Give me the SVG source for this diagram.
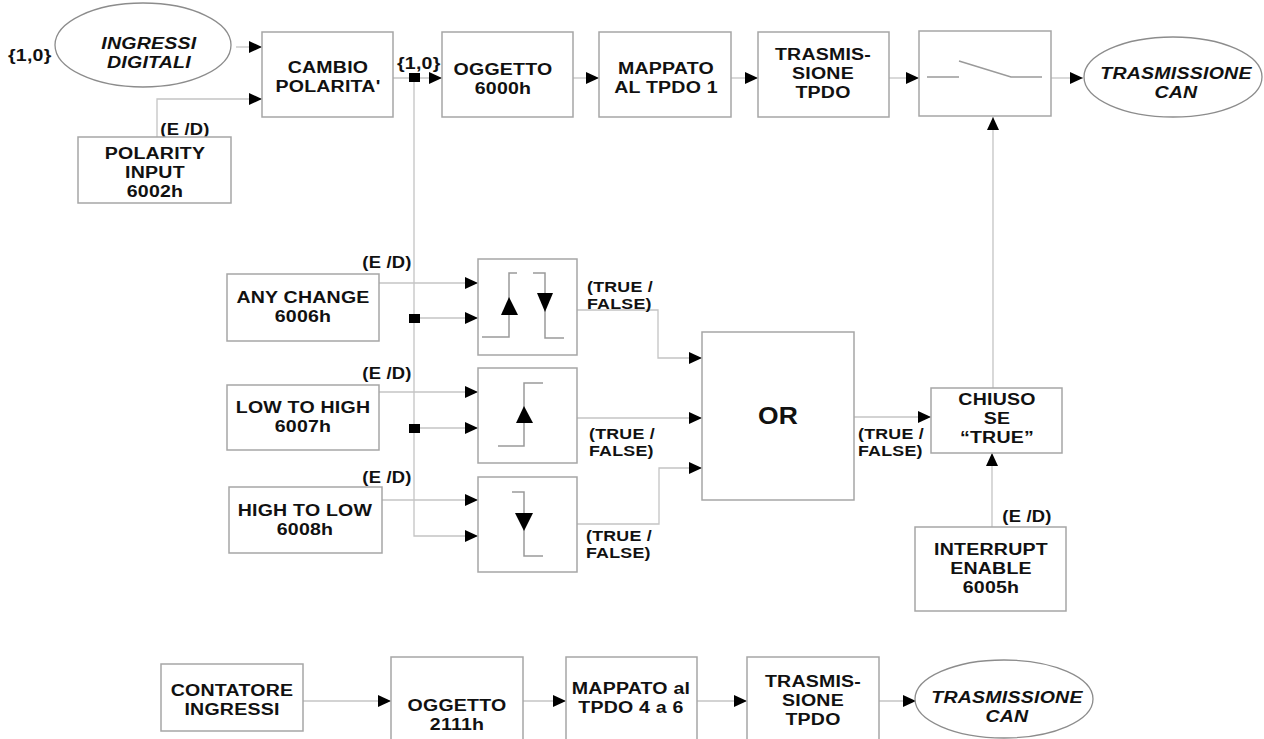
<svg xmlns="http://www.w3.org/2000/svg" width="1264" height="739" viewBox="0 0 1264 739">
<defs>
<marker id="ah" markerUnits="userSpaceOnUse" markerWidth="14" markerHeight="12" refX="13" refY="6" orient="auto">
<path d="M0,0 L13,6 L0,12 Z" fill="#000"/>
</marker>
<style>
.bx{fill:#fff;stroke:#a6a6a6;stroke-width:1.5}
.el{fill:#fff;stroke:#8c8c8c;stroke-width:1.3}
.cn{fill:none;stroke:#c4c4c4;stroke-width:1.3}
.ar{marker-end:url(#ah)}
.sym{fill:none;stroke:#9a9a9a;stroke-width:1.5}
.tri{fill:#000}
text{font-family:"Liberation Sans",Arial,sans-serif;font-weight:bold;fill:#111;letter-spacing:0.2px;transform-box:fill-box;transform-origin:center;transform:scaleX(1.15)}
.t{font-size:17px;text-anchor:middle}
.it{font-size:17px;text-anchor:middle;font-style:italic}
.s{font-size:16px;text-anchor:middle}
.ls{font-size:15.5px;text-anchor:start;transform-origin:left center}
.br{font-size:17px;text-anchor:start;transform-origin:left center}
</style>
</defs>
<rect width="1264" height="739" fill="#fff"/>

<g id="connectors">
<line class="cn ar" x1="236" y1="47" x2="262" y2="47"/>
<polyline class="cn ar" points="157,137 157,99 262,99"/>
<line class="cn ar" x1="393" y1="78" x2="442" y2="78"/>
<line class="cn ar" x1="573" y1="78" x2="599" y2="78"/>
<line class="cn ar" x1="731" y1="78" x2="758" y2="78"/>
<line class="cn ar" x1="889" y1="78" x2="919" y2="78"/>
<line class="cn ar" x1="1051" y1="78" x2="1083" y2="78"/>
<polyline class="cn ar" points="414,78 414,536 478,536"/>
<line class="cn ar" x1="379" y1="283" x2="478" y2="283"/>
<line class="cn ar" x1="414" y1="318" x2="478" y2="318"/>
<line class="cn ar" x1="379" y1="392" x2="478" y2="392"/>
<line class="cn ar" x1="414" y1="428" x2="478" y2="428"/>
<line class="cn ar" x1="382" y1="500" x2="478" y2="500"/>
<polyline class="cn ar" points="577,310 658,310 658,358 702,358"/>
<line class="cn ar" x1="577" y1="418" x2="702" y2="418"/>
<polyline class="cn ar" points="577,524 659,524 659,468 702,468"/>
<line class="cn ar" x1="854" y1="417" x2="931" y2="417"/>
<line class="cn ar" x1="993" y1="388" x2="993" y2="117"/>
<line class="cn ar" x1="992" y1="527" x2="992" y2="453"/>
<line class="cn ar" x1="303" y1="701" x2="391" y2="701"/>
<line class="cn ar" x1="523" y1="701" x2="566" y2="701"/>
<line class="cn ar" x1="697" y1="701" x2="747" y2="701"/>
<line class="cn ar" x1="879" y1="701" x2="916" y2="701"/>
<rect x="409" y="73" width="11" height="9" fill="#000"/>
<rect x="409" y="314" width="11" height="9" fill="#000"/>
<rect x="409" y="424" width="11" height="9" fill="#000"/>
<text class="br" x="8" y="61">{1,0}</text>
<text class="br" x="397" y="69">{1,0}</text>
<text class="s" x="185" y="135">(E /D)</text>
<text class="s" x="387" y="268">(E /D)</text>
<text class="s" x="387" y="379">(E /D)</text>
<text class="s" x="387" y="483">(E /D)</text>
<text class="s" x="1027" y="522">(E /D)</text>
<text class="ls" x="587" y="292">(TRUE /</text>
<text class="ls" x="587" y="309">FALSE)</text>
<text class="ls" x="589" y="439">(TRUE /</text>
<text class="ls" x="589" y="456">FALSE)</text>
<text class="ls" x="586" y="541">(TRUE /</text>
<text class="ls" x="586" y="558">FALSE)</text>
<text class="ls" x="858" y="439">(TRUE /</text>
<text class="ls" x="858" y="456">FALSE)</text>
</g>

<g id="ingressi">
<ellipse class="el" cx="143" cy="45" rx="88" ry="42"/>
<text class="it" x="149" y="49">INGRESSI</text>
<text class="it" x="149" y="68">DIGITALI</text>
</g>
<g id="cambio">
<rect class="bx" x="262" y="32" width="131" height="85"/>
<text class="t" x="328" y="73">CAMBIO</text>
<text class="t" x="328" y="92">POLARITA'</text>
</g>
<g id="polarity">
<rect class="bx" x="78" y="137" width="153" height="66"/>
<text class="t" x="155" y="159">POLARITY</text>
<text class="t" x="155" y="178">INPUT</text>
<text class="t" x="155" y="197">6002h</text>
</g>
<g id="oggetto6000">
<rect class="bx" x="442" y="32" width="131" height="85"/>
<text class="t" x="503" y="75">OGGETTO</text>
<text class="t" x="503" y="94">6000h</text>
</g>
<g id="mappato1">
<rect class="bx" x="599" y="32" width="132" height="85"/>
<text class="t" x="666" y="74">MAPPATO</text>
<text class="t" x="666" y="93">AL TPDO 1</text>
</g>
<g id="trasm1">
<rect class="bx" x="758" y="32" width="131" height="85"/>
<text class="t" x="823" y="60">TRASMIS-</text>
<text class="t" x="823" y="79">SIONE</text>
<text class="t" x="823" y="98">TPDO</text>
</g>
<g id="switch">
<rect class="bx" x="919" y="31" width="132" height="85"/>
<polyline class="sym" points="927,77 959,77"/>
<polyline class="sym" points="959,61 1011,77 1042,77"/>
</g>
<g id="can1">
<ellipse class="el" cx="1173" cy="77" rx="89" ry="40"/>
<text class="it" x="1176" y="79">TRASMISSIONE</text>
<text class="it" x="1176" y="98">CAN</text>
</g>

<g id="anychange">
<rect class="bx" x="227" y="274" width="152" height="67"/>
<text class="t" x="303" y="303">ANY CHANGE</text>
<text class="t" x="303" y="322">6006h</text>
</g>
<g id="lowtohigh">
<rect class="bx" x="227" y="385" width="152" height="65"/>
<text class="t" x="303" y="413">LOW TO HIGH</text>
<text class="t" x="303" y="432">6007h</text>
</g>
<g id="hightolow">
<rect class="bx" x="229" y="487" width="153" height="66"/>
<text class="t" x="305" y="516">HIGH TO LOW</text>
<text class="t" x="305" y="535">6008h</text>
</g>

<g id="edge1">
<rect class="bx" x="478" y="259" width="99" height="96"/>
<polyline class="sym" points="482,337 509,337 509,273 517,273"/>
<polyline class="sym" points="533,273 545,273 545,338 564,338"/>
<polygon class="tri" points="509,297 501,315 518,315"/>
<polygon class="tri" points="537,293 553,293 545,312"/>
</g>
<g id="edge2">
<rect class="bx" x="478" y="368" width="99" height="95"/>
<polyline class="sym" points="498,446 524,446 524,383 543,383"/>
<polygon class="tri" points="524,406 516,423 533,423"/>
</g>
<g id="edge3">
<rect class="bx" x="478" y="477" width="99" height="95"/>
<polyline class="sym" points="512,492 524,492 524,556 543,556"/>
<polygon class="tri" points="515,513 533,513 524,531"/>
</g>

<g id="or">
<rect class="bx" x="702" y="332" width="152" height="168"/>
<text class="t" x="778" y="424" style="font-size:23px">OR</text>
</g>
<g id="chiuso">
<rect class="bx" x="931" y="388" width="131" height="65"/>
<text class="t" x="997" y="405">CHIUSO</text>
<text class="t" x="997" y="424">SE</text>
<text class="t" x="997" y="443">“TRUE”</text>
</g>
<g id="interrupt">
<rect class="bx" x="915" y="527" width="151" height="84"/>
<text class="t" x="991" y="555">INTERRUPT</text>
<text class="t" x="991" y="574">ENABLE</text>
<text class="t" x="991" y="593">6005h</text>
</g>

<g id="contatore">
<rect class="bx" x="161" y="664" width="142" height="67"/>
<text class="t" x="232" y="696">CONTATORE</text>
<text class="t" x="232" y="715">INGRESSI</text>
</g>
<g id="oggetto2111">
<rect class="bx" x="391" y="657" width="132" height="90"/>
<text class="t" x="457" y="711">OGGETTO</text>
<text class="t" x="457" y="730">2111h</text>
</g>
<g id="mappato46">
<rect class="bx" x="566" y="657" width="131" height="90"/>
<text class="t" x="631" y="694">MAPPATO al</text>
<text class="t" x="631" y="713">TPDO 4 a 6</text>
</g>
<g id="trasm2">
<rect class="bx" x="747" y="657" width="132" height="90"/>
<text class="t" x="813" y="687">TRASMIS-</text>
<text class="t" x="813" y="706">SIONE</text>
<text class="t" x="813" y="725">TPDO</text>
</g>
<g id="can2">
<ellipse class="el" cx="1004" cy="699" rx="89" ry="39"/>
<text class="it" x="1007" y="703">TRASMISSIONE</text>
<text class="it" x="1007" y="722">CAN</text>
</g>
</svg>
